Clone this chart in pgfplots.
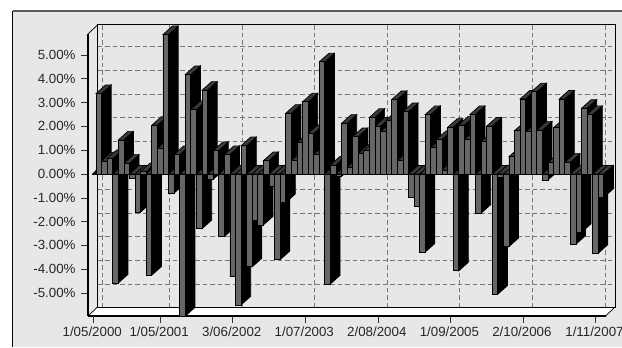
\documentclass[border=0pt]{standalone}
\usepackage{pgfplots}
\usepackage{pgfplotstable}
\usepackage{fontspec}
\setmainfont{Liberation Sans}
\pgfplotsset{compat=1.18}

\definecolor{panelgrey}{HTML}{E6E7E9}
\definecolor{barfront}{HTML}{666666}
\definecolor{bartop}{HTML}{3A3A3A}
\definecolor{gridgrey}{HTML}{777777}
\definecolor{frameline}{HTML}{333333}

% monthly returns, percent
\pgfplotstableread{
i v
0 3.38
1 0.55
2 0.65
3 -4.58
4 1.43
5 0.45
6 -0.17
7 -1.60
8 0.10
9 -4.25
10 2.05
11 1.07
12 5.86
13 -0.80
14 0.82
15 -5.97
16 4.18
17 2.71
18 -2.30
19 3.52
20 -0.22
21 0.98
22 -2.63
23 0.82
24 -4.32
25 -5.50
26 1.19
27 -3.90
28 -1.93
29 -2.14
30 0.56
31 -0.50
32 -3.60
33 -1.20
34 2.55
35 0.56
36 1.31
37 3.03
38 1.70
39 0.82
40 4.71
41 -4.62
42 0.38
43 -0.10
44 2.13
45 0.28
46 1.57
47 0.87
48 0.98
49 2.38
50 2.01
51 1.78
52 2.27
53 3.13
54 0.56
55 2.62
56 -1.00
57 -1.38
58 -3.28
59 2.50
60 1.12
61 1.45
62 0.17
63 1.96
64 -4.07
65 2.06
66 1.45
67 2.50
68 -1.65
69 1.36
70 2.01
71 -5.05
72 -0.15
73 -3.05
74 0.73
75 1.82
76 3.15
77 1.78
78 3.45
79 1.85
80 -0.25
81 0.49
82 1.95
83 3.15
84 0.49
85 -2.95
86 -2.45
87 2.76
88 2.50
89 -3.33
90 -0.98
}\returns

% side and top faces of one bar, placed at its data point
\def\barunit{23.8}
\def\pgflineto{\pgfpathlineto}
\pgfdeclareplotmark{barextrusion}{%
  \pgfmathsetmacro\faceT{\barval>0 ? 0 : -\barval*\barunit}%
  \pgfmathsetmacro\faceB{\barval>0 ? -\barval*\barunit : 0}%
  \pgfmathsetmacro\faceTT{\faceT+8.6}%
  \pgfmathsetmacro\faceBB{\faceB+8.6}%
  \pgfsetlinewidth{0.7bp}%
  \pgfsetstrokecolor{black}%
  \pgfsetfillcolor{black}%
  \pgfpathmoveto{\pgfpoint{2.79bp}{\faceT bp}}%
  \pgflineto{\pgfpoint{12.4bp}{\faceTT bp}}%
  \pgflineto{\pgfpoint{12.4bp}{\faceBB bp}}%
  \pgflineto{\pgfpoint{2.79bp}{\faceB bp}}%
  \pgfpathclose
  \pgfusepathqfillstroke
  \pgfsetfillcolor{bartop}%
  \pgfpathmoveto{\pgfpoint{-2.79bp}{\faceT bp}}%
  \pgflineto{\pgfpoint{2.79bp}{\faceT bp}}%
  \pgflineto{\pgfpoint{12.4bp}{\faceTT bp}}%
  \pgflineto{\pgfpoint{6.8bp}{\faceTT bp}}%
  \pgfpathclose
  \pgfusepathqfillstroke
}

\begin{document}
\begin{tikzpicture}[x=1bp,y=1bp]
\useasboundingbox (0,0) rectangle (622,347);
\fill[white] (0,0) rectangle (622,347);
% panel
\fill[panelgrey] (12.5,0) rectangle (622,336);
\draw[black,line width=0.9bp] (12.5,0) -- (12.5,336);
\draw[frameline!80,line width=1.1bp] (12.5,336) -- (622,336);
% floor of the box
\fill[white] (88,31) -- (97.5,40) -- (615,40) -- (605.5,31) -- cycle;
% back wall outline and corner edges
\draw[black,line width=1bp] (97.5,40) -- (97.5,322) -- (615,322) -- (615,40) -- cycle;
\draw[black,line width=0.7bp] (88,313) -- (97.5,322);
\draw[black,line width=0.7bp] (88,31) -- (97.5,40);
\draw[black,line width=0.7bp] (605.5,31) -- (615,40);

\begin{axis}[
  at={(88bp,31bp)}, anchor=south west,
  scale only axis, width=517.5bp, height=282bp,
  xmin=-1.935, xmax=90.8,
  ymin=-5.966, ymax=5.882,
  clip=false, clip marker paths=true,
  axis x line*=bottom, axis y line*=left,
  axis line style={black,line width=2.6bp,-},
  xtick={-1,11,24,37,50,63,76,89},
  xticklabels={1/05/2000,1/05/2001,3/06/2002,1/07/2003,2/08/2004,1/09/2005,2/10/2006,1/11/2007},
  minor x tick num=3,
  ytick={-5,-4,-3,-2,-1,0,1,2,3,4,5},
  yticklabel={\pgfmathprintnumber[fixed,fixed zerofill,precision=2,assume math mode=true]{\tick}\%},
  tick style={black!80,line width=0.6bp},
  major tick length=7bp,
  minor tick length=4.5bp,
  tick align=outside,
  xmajorgrids, ymajorgrids,
  grid style={gridgrey,line width=0.9bp,dash pattern=on 4.5bp off 3bp,xshift=9.5bp,yshift=8.6bp},
  tick label style={font=\fontsize{13.3bp}{15bp}\selectfont,text=black!85},
  xticklabel style={yshift=0bp,xshift=-1bp},
  yticklabel style={xshift=-2bp},
]
% depth faces first, in series order
\addplot[only marks,scatter,point meta=y,mark=barextrusion,
  visualization depends on={\thisrow{v}\as\barval},
  scatter/use mapped color={draw=black,fill=black}]
  table[x=i,y=v] {\returns};
% front faces
\addplot[ybar,bar width=5.58bp,fill=barfront,draw=black,line width=0.8bp]
  table[x=i,y=v] {\returns};
% stub of the zero line left of the first bar
\draw[black,line width=1bp] (axis cs:-1.2,0) -- (axis cs:0,0);
\fill[black] (axis cs:-1.2,0) -- (axis cs:-0.5,0) -- (axis cs:-0.5,0.17) -- cycle;
\end{axis}
\end{tikzpicture}
\end{document}
